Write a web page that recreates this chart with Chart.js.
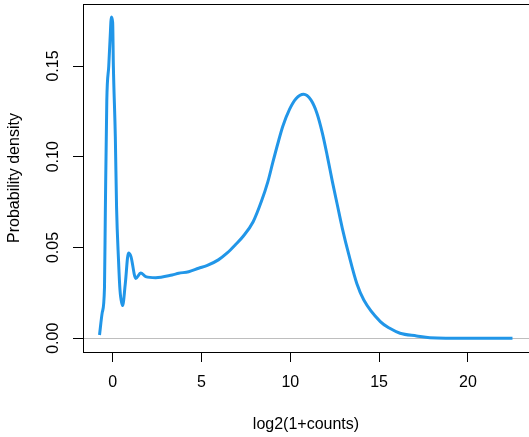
<!DOCTYPE html>
<html>
<head>
<meta charset="utf-8">
<script src="https://cdn.jsdelivr.net/npm/chart.js@4"></script>
<style>
    html, body { margin: 0; padding: 0; background: #fff; }
    #wrap { width: 529px; height: 437px; }
</style>
</head>
<body>
<div id="wrap"><canvas id="chartDensity" width="529" height="437"></canvas></div>
<script>
// density curve
const densX = [-0.74, -0.59, -0.46, -0.41, -0.33, -0.22, -0.15, -0.07, 0.0, 0.04, 0.15, 0.22, 0.33, 0.41, 0.56, 0.71, 0.89, 1.03, 1.30, 1.58, 1.86, 2.42, 3.35, 3.72, 4.28, 4.84, 5.30, 5.95, 6.45, 6.89, 7.35, 7.91, 8.37, 8.74, 9.02, 9.30, 9.58, 9.95, 10.32, 10.75, 11.16, 11.50, 11.81, 12.09, 12.37, 12.65, 12.93, 13.30, 13.75, 14.14, 15.07, 15.60, 16.18, 17.11, 17.86, 20.0, 22.51];
const densY = [0.0018, 0.014, 0.028, 0.072, 0.131, 0.150, 0.164, 0.177, 0.174, 0.150, 0.111, 0.072, 0.043, 0.027, 0.018, 0.030, 0.047, 0.045, 0.033, 0.036, 0.034, 0.0334, 0.0349, 0.0358, 0.0367, 0.0386, 0.040, 0.0432, 0.047, 0.0513, 0.0562, 0.0642, 0.0753, 0.0863, 0.0970, 0.1073, 0.1168, 0.1260, 0.1320, 0.1344, 0.1313, 0.1240, 0.1129, 0.1001, 0.0863, 0.0734, 0.0606, 0.0459, 0.030, 0.0211, 0.0092, 0.0055, 0.0028, 0.0013, 0.0003, 0.0, 0.0];
const xTicks = [0, 5, 10, 15, 20];
const yTicks = [0, 0.05, 0.10, 0.15];

const font = { family: "'Liberation Sans', Arial, sans-serif", size: 16 };

const boxPlugin = {
    id: 'rBox',
    beforeDatasetsDraw(chart) {
        const { ctx, chartArea: a, scales } = chart;
        const y0 = Math.round(scales.y.getPixelForValue(0)) + 0.5;
        ctx.save();
        ctx.strokeStyle = '#bebebe';
        ctx.lineWidth = 1;
        ctx.beginPath();
        ctx.moveTo(a.left, y0);
        ctx.lineTo(a.right, y0);
        ctx.stroke();
        ctx.restore();
    },
    afterDraw(chart) {
        const { ctx, chartArea: a } = chart;
        ctx.save();
        ctx.strokeStyle = '#000';
        ctx.lineWidth = 1;
        ctx.strokeRect(Math.round(a.left) + 0.5, Math.round(a.top) + 0.5,
            Math.round(a.right - a.left) + 10, Math.round(a.bottom - a.top));
        ctx.restore();
    },
};

new Chart(document.getElementById('chartDensity'), {
    type: 'scatter',
    data: {
        datasets: [{
            data: densX.map((x, i) => ({ x, y: densY[i] })),
            showLine: true,
            borderColor: 'rgb(33, 150, 232)',
            borderWidth: 3,
            pointRadius: 0,
            cubicInterpolationMode: 'monotone',
            fill: false,
        }],
    },
    options: {
        responsive: false,
        animation: false,
        devicePixelRatio: 1,
        layout: { padding: { top: 4, left: 0, right: -4, bottom: 0 } },
        plugins: { legend: { display: false }, tooltip: { enabled: false } },
        scales: {
            x: {
                type: 'linear',
                min: -1.67,
                max: 23.44,
                afterBuildTicks: (s) => { s.ticks = xTicks.map(v => ({ value: v })); },
                afterFit: (s) => { s.height = 85; s.paddingLeft = 0; s.paddingRight = 0; },
                border: { display: false },
                grid: { drawOnChartArea: false, drawTicks: true, tickLength: 10, color: '#000' },
                ticks: { font, color: '#000', padding: 11, autoSkip: false, maxRotation: 0 },
                title: { display: true, text: 'log2(1+counts)', font, color: '#000', padding: { top: 0, bottom: 3 } },
            },
            y: {
                type: 'linear',
                min: -0.00755,
                max: 0.18416,
                afterBuildTicks: (s) => { s.ticks = yTicks.map(v => ({ value: v })); },
                afterFit: (s) => { s.width = 83; s.paddingTop = 0; s.paddingBottom = 0; },
                border: { display: false },
                grid: { drawOnChartArea: false, drawTicks: true, tickLength: 10, color: '#000' },
                ticks: {
                    font, color: '#000', padding: 4, autoSkip: false,
                    minRotation: 90, maxRotation: 90, crossAlign: 'center',
                    callback: (v) => Number(v).toFixed(2),
                },
                title: { display: true, text: 'Probability density', font, color: '#000', padding: { top: 5, bottom: 0 } },
            },
        },
    },
    plugins: [boxPlugin],
});
</script>
</body>
</html>
